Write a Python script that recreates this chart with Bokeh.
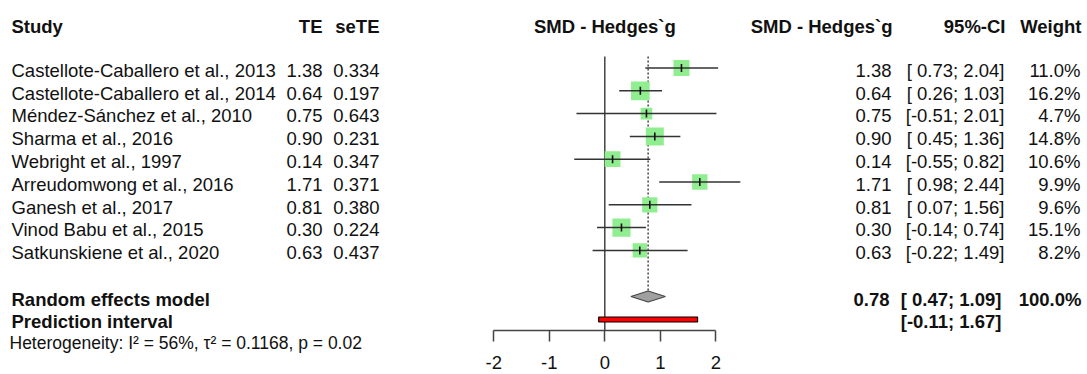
from bokeh.plotting import figure
from bokeh.models import Range1d, FixedTicker, ColumnDataSource
from bokeh.core.properties import value
from bokeh.embed import file_html
from bokeh.resources import INLINE

# ---------------- data ----------------
studies = [
    "Castellote-Caballero et al., 2013",
    "Castellote-Caballero et al., 2014",
    "Méndez-Sánchez et al., 2010",
    "Sharma et al., 2016",
    "Webright et al., 1997",
    "Arreudomwong et al., 2016",
    "Ganesh et al., 2017",
    "Vinod Babu et al., 2015",
    "Satkunskiene et al., 2020",
]
te = [1.38, 0.64, 0.75, 0.90, 0.14, 1.71, 0.81, 0.30, 0.63]
sete = [0.334, 0.197, 0.643, 0.231, 0.347, 0.371, 0.380, 0.224, 0.437]
ci_lower = [0.73, 0.26, -0.51, 0.45, -0.55, 0.98, 0.07, -0.14, -0.22]
ci_upper = [2.04, 1.03, 2.01, 1.36, 0.82, 2.44, 1.56, 0.74, 1.49]
weights = [11.0, 16.2, 4.7, 14.8, 10.6, 9.9, 9.6, 15.1, 8.2]

re_est, re_lower, re_upper, re_weight = 0.78, 0.47, 1.09, 100.0
pi_lower, pi_upper = -0.11, 1.67
i2, tau2, pval = 56, 0.1168, 0.02
x_ticks = [-2, -1, 0, 1, 2]

# ---------------- layout helpers ----------------
W, H = 1087, 374
PAGE_X0 = 0
ZERO_PX = 604.3      # page x of effect 0
PX_PER_UNIT = 55.55  # pixels per effect unit
AXIS_Y = 330


def col(px):
    """page pixel x -> data x"""
    return (px - ZERO_PX) / PX_PER_UNIT


def row_y(i):
    return 67.5 + 22.8 * i


FONT = value("Liberation Sans")
FS = "18.5px"

p = figure(
    width=W, height=H, output_backend="svg", toolbar_location=None,
    x_range=Range1d(col(PAGE_X0), col(PAGE_X0 + W)),
    y_range=Range1d(H, 0),
    y_axis_location=None,
    min_border_left=0, min_border_right=0, min_border_top=0, min_border_bottom=0,
)
p.outline_line_color = None
p.grid.visible = False
p.background_fill_color = "white"
p.border_fill_color = "white"

ax = p.xaxis[0]
ax.fixed_location = AXIS_Y
ax.ticker = FixedTicker(ticks=x_ticks)
ax.major_label_overrides = {t: str(t) for t in x_ticks}
ax.bounds = (min(x_ticks), max(x_ticks))
ax.major_tick_in = 0
ax.major_tick_out = 11
ax.minor_tick_line_color = None
ax.axis_line_color = "#444444"
ax.axis_line_width = 1.5
ax.major_tick_line_color = "#444444"
ax.major_tick_line_width = 1.5
ax.major_label_text_font = "Liberation Sans"
ax.major_label_text_font_size = FS
ax.major_label_text_color = "#111111"
ax.major_label_standoff = 14

n = len(studies)
ys = [row_y(i) for i in range(n)]
ys_txt = [y + 2.2 for y in ys]

# reference lines
p.segment(x0=[0], y0=[56], x1=[0], y1=[AXIS_Y], line_color="#444444", line_width=1.5)
p.segment(x0=[re_est], y0=[56], x1=[re_est], y1=[290], line_color="#444444",
          line_width=1.5, line_dash="2 2")

# study squares + CIs
sizes = [3.5 + 3.77 * (w ** 0.5) for w in weights]
src = ColumnDataSource(dict(te=te, lo=ci_lower, hi=ci_upper, y=ys, size=sizes))
p.scatter(x="te", y="y", size="size", marker="square", source=src,
          fill_color="#90EE90", line_color=None)
p.segment(x0="lo", y0="y", x1="hi", y1="y", source=src, line_color="#333333", line_width=1.5)
p.scatter(x="te", y="y", size=8, marker="dash", angle=1.5708, source=src,
          line_color="#111111", line_width=1.6)

# summary diamond
yd = 296
p.patch(x=[re_lower, re_est, re_upper, re_est], y=[yd, yd - 5.5, yd, yd + 5.5],
        fill_color="#a0a0a0", line_color="#444444", line_width=1.2)

# prediction interval
yp = 319
p.quad(left=[pi_lower], right=[pi_upper], top=[yp - 2.5], bottom=[yp + 2.5],
       fill_color="red", line_color="black", line_width=1.2)

# ---------------- text ----------------
def txt(x, y, s, align="left", bold=False, size=FS):
    p.text(x=x, y=y, text=s, text_font=FONT, text_font_size=size,
           text_align=align, text_baseline="middle", text_color="#111111",
           text_font_style="bold" if bold else "normal")

# header
yh = 26
txt([col(11)], [yh], ["Study"], bold=True)
txt([col(322)], [yh], ["TE"], align="right", bold=True)
txt([col(379)], [yh], ["seTE"], align="right", bold=True)
txt([0], [yh], ["SMD - Hedges`g"], align="center", bold=True)
txt([col(892)], [yh], ["SMD - Hedges`g"], align="right", bold=True)
txt([col(1005)], [yh], ["95%-CI"], align="right", bold=True)
txt([col(1081)], [yh], ["Weight"], align="right", bold=True)

# study rows
txt([col(11)] * n, ys_txt, studies)
txt([col(322)] * n, ys_txt, [f"{v:.2f}" for v in te], align="right")
txt([col(379)] * n, ys_txt, [f"{v:.3f}" for v in sete], align="right")
txt([col(891)] * n, ys_txt, [f"{v:.2f}" for v in te], align="right")
txt([col(1004)] * n, ys_txt,
    [f"[{lo:5.2f}; {hi:.2f}]" for lo, hi in zip(ci_lower, ci_upper)], align="right")
txt([col(1080)] * n, ys_txt, [f"{w:.1f}%" for w in weights], align="right")

# summary rows
ys_re = 298.5
txt([col(11)], [ys_re], ["Random effects model"], bold=True)
txt([col(889)], [ys_re], [f"{re_est:.2f}"], align="right", bold=True)
txt([col(1001)], [ys_re], [f"[{re_lower:5.2f}; {re_upper:.2f}]"], align="right", bold=True)
txt([col(1081)], [ys_re], [f"{re_weight:.1f}%"], align="right", bold=True)

ys_pi = 320.5
txt([col(11)], [ys_pi], ["Prediction interval"], bold=True)
txt([col(1001)], [ys_pi], [f"[{pi_lower:.2f}; {pi_upper:.2f}]"], align="right", bold=True)

txt([col(9)], [342], [f"Heterogeneity: I² = {i2}%, τ² = {tau2:.4f}, p = {pval:.2f}"],
    size="17.5px")

open("out.html", "w").write(file_html(p, INLINE))
